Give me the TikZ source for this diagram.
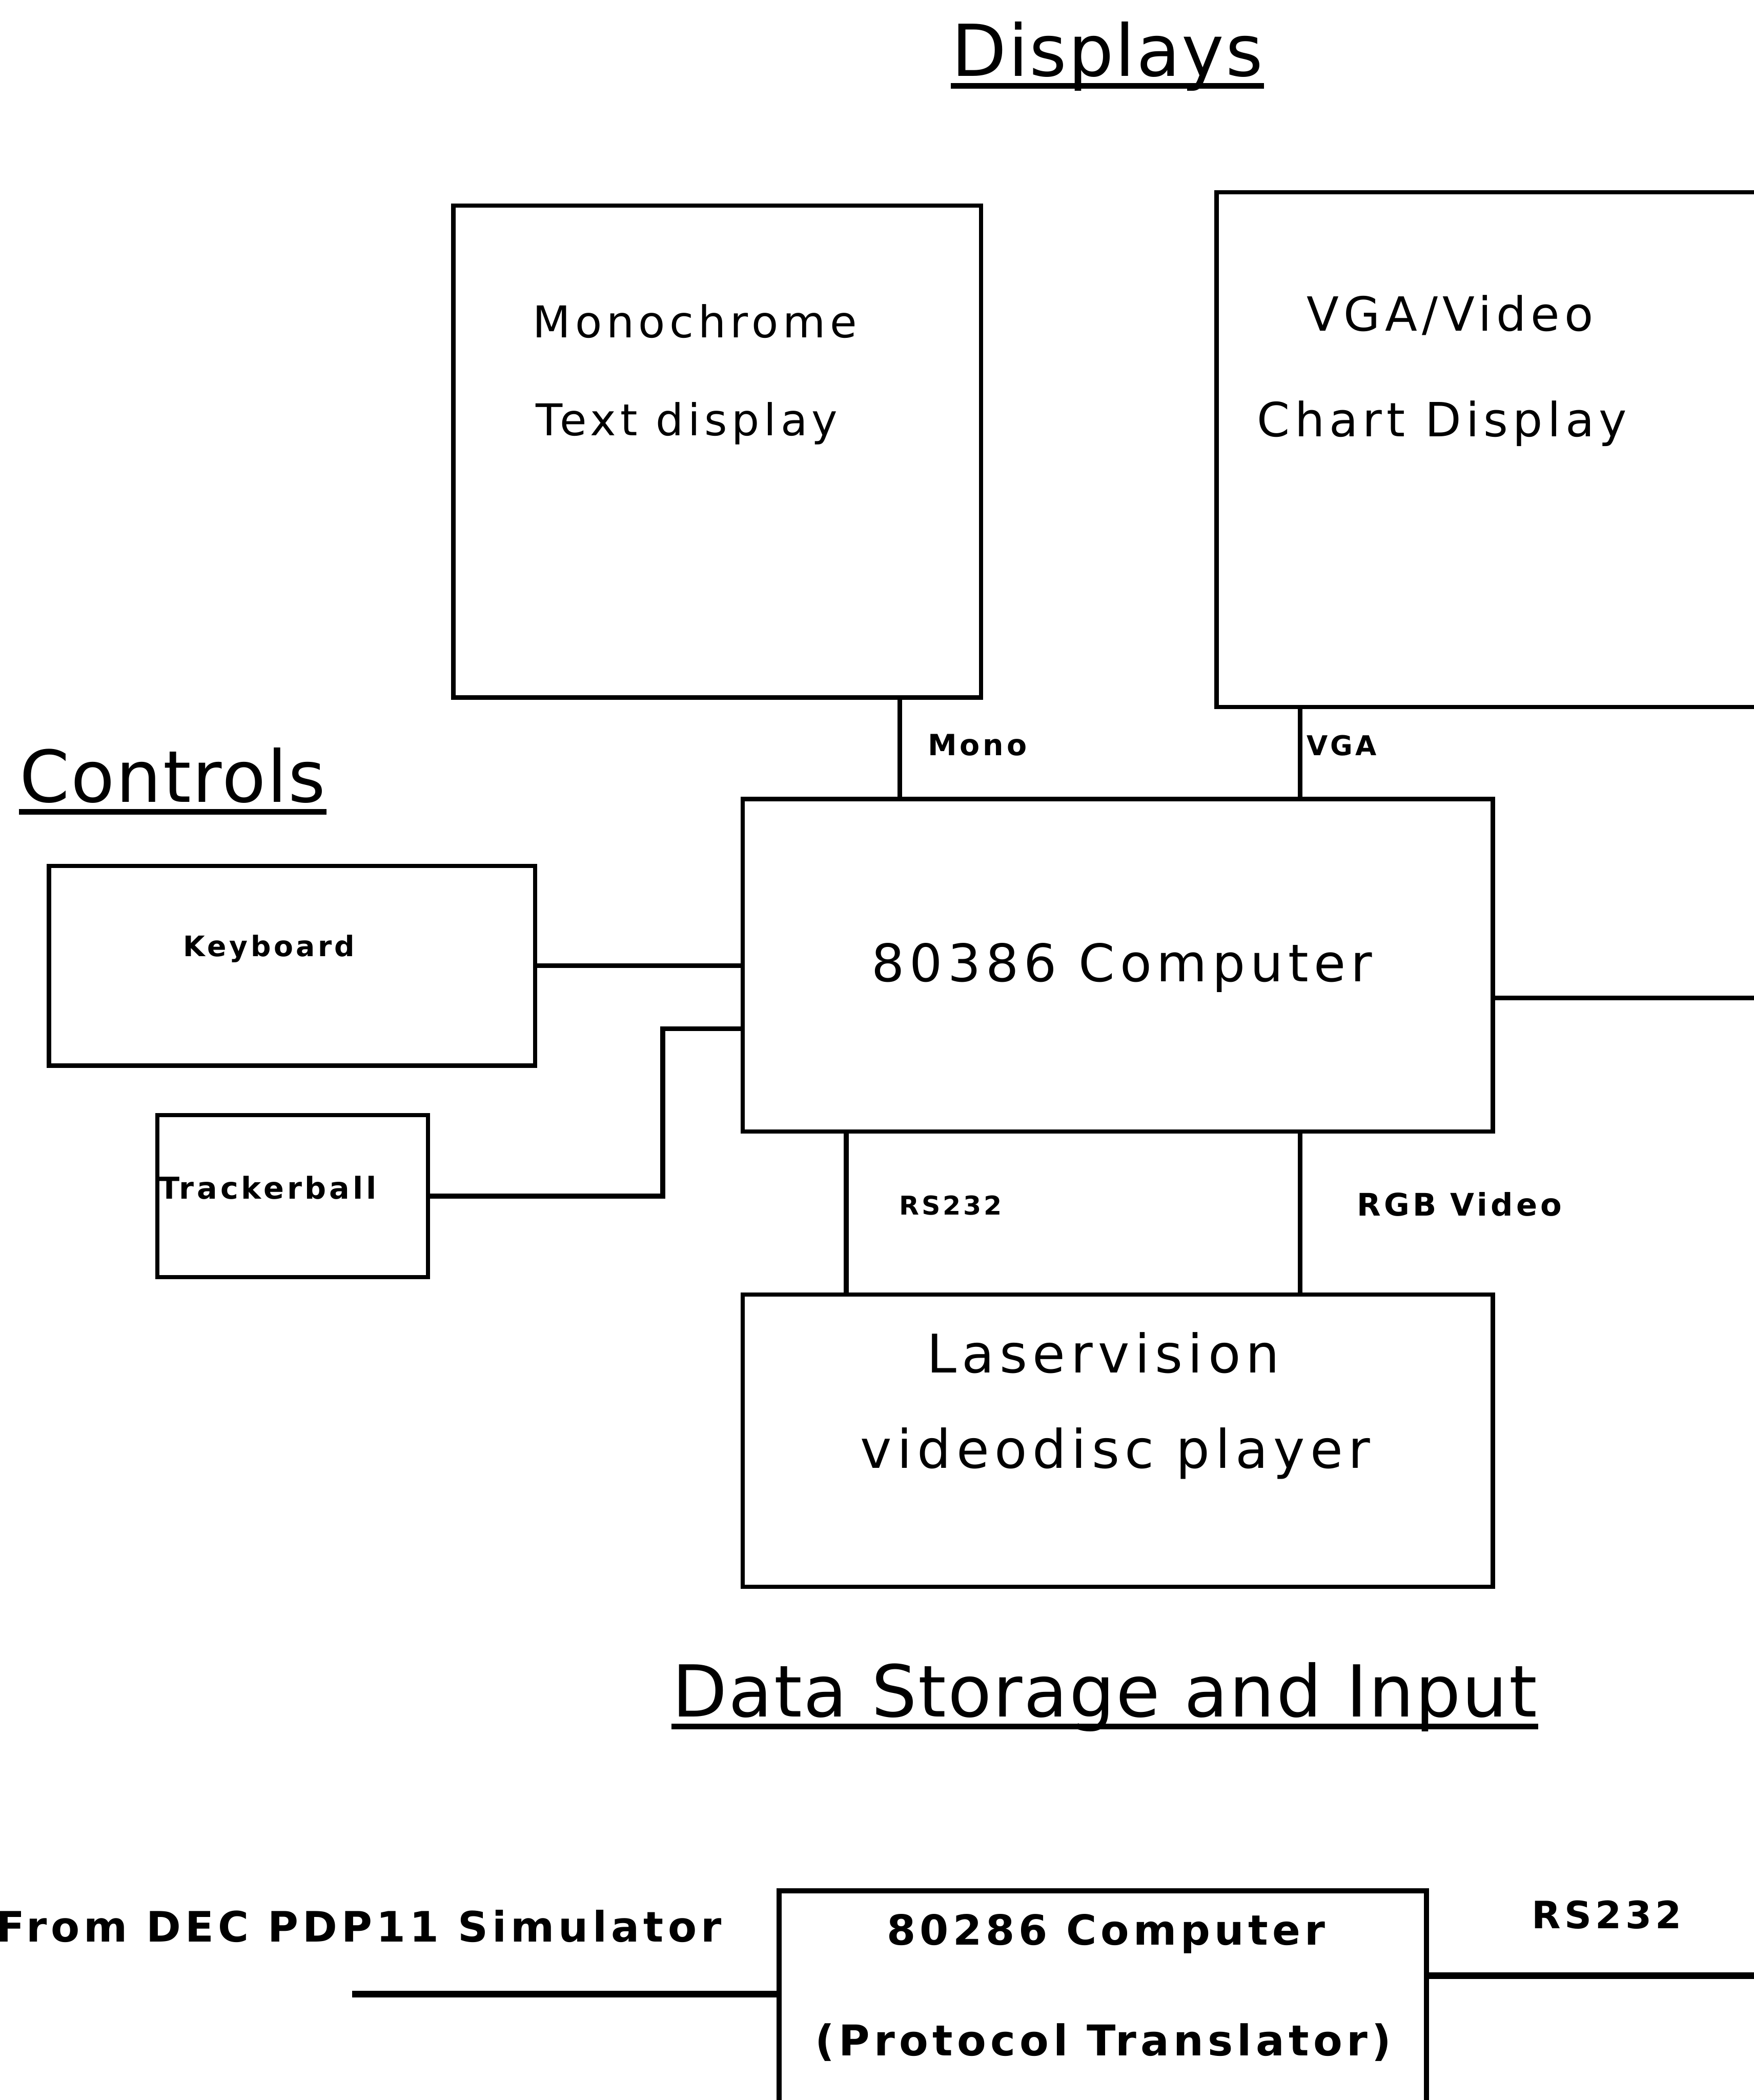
\documentclass[tikz,border=0pt]{standalone}
\usepackage{fontspec}
\setmainfont{DejaVu Sans}
\newfontfamily\spacedfont[LetterSpace=10]{DejaVu Sans}
\newfontfamily\titlefont[LetterSpace=2]{DejaVu Sans}
\usetikzlibrary{positioning}

\begin{document}
\begin{tikzpicture}[x=0.01cm, y=-0.01cm,
				box/.style={draw, line width=0.9pt, anchor=north west, inner sep=0pt},
				title/.style={font=\titlefont\fontsize{15.2}{18}\selectfont, inner sep=0pt, anchor=base},
				txt/.style={font=\spacedfont\fontsize{#1}{12}\selectfont, inner sep=0pt, anchor=base},
				bold/.style={font=\spacedfont\bfseries\fontsize{#1}{12}\selectfont, inner sep=0pt, anchor=base},
				wire/.style={line width=1pt},
				uline/.style={line width=1.2pt}]
				\useasboundingbox (0,0) rectangle (1310,1568);
				\clip (0,0) rectangle (1310,1568);
				% titles
				\node[title] (tdisp) at (827,57)   {Displays};
				\node[title] (tctrl) at (129,599)  {Controls};
				\node[title] (tdata) at (825,1282) {Data Storage and Input};
				\foreach \t in {tdisp,tctrl,tdata}
					\draw[uline] ([yshift=-2pt]\t.base west) -- ([yshift=-2pt]\t.base east);
				% boxes
				\node[box, minimum width=3.94cm, minimum height=3.67cm] (mono)  at (337,152)  {};
				\node[box, minimum width=5cm,    minimum height=3.84cm] (vga)   at (907,142)  {};
				\node[box, minimum width=3.63cm, minimum height=1.49cm] (kbd)   at (35,645)   {};
				\node[box, minimum width=2.02cm, minimum height=1.21cm] (track) at (116,831)  {};
				\node[box, minimum width=5.60cm, minimum height=2.48cm] (comp)  at (553,595)  {};
				\node[box, minimum width=5.60cm, minimum height=2.18cm] (laser) at (553,965)  {};
				\node[box, minimum width=4.83cm, minimum height=3cm, line width=1.1pt] (proto) at (580,1410) {};
				% box texts
				\node[txt=9.3]  (monoa)  at (519,252)  {Monochrome};
				\node[txt=9.3]  (monob)  at (513,325)  {Text display};
				\node[txt=10]   (vgaa)   at (1083,247) {VGA/Video};
				\node[txt=10]   (vgab)   at (1077,326) {Chart Display};
				\node[bold=6]   (kbda)   at (201,714)  {Keyboard};
				\node[bold=6.4] (tracka) at (200,895)  {Trackerball};
				\node[txt=11]   (compa)  at (838,733)  {80386 Computer};
				\node[txt=11.3] (lasera) at (824,1025) {Laservision};
				\node[txt=11.3] (laserb) at (833,1096) {videodisc player};
				\node[bold=8.8] (protoa) at (826,1452) {80286 Computer};
				\node[bold=9]   (protob) at (824,1535) {(Protocol Translator)};
				% wire labels
				\node[bold=6.2] (lmono) at (730,564)   {Mono};
				\node[bold=5.8] (lvga)  at (1002,564)  {VGA};
				\node[bold=5.5] (lrs)   at (710,907)   {RS232};
				\node[bold=6.6] (lrgb)  at (1090,908)  {RGB Video};
				\node[bold=8.9] (lfrom) at (268,1450)  {From DEC PDP11 Simulator};
				\node[bold=8]   (lrsb)  at (1200,1440) {RS232};
				% wires
				\coordinate (xm) at (672,0);
				\coordinate (xv) at (971,0);
				\coordinate (xr) at (632,0);
				\coordinate (tk) at (495,768);
				\coordinate (rout) at (1330,745);
				\coordinate (pin) at (263,1489);
				\coordinate (pout) at (1330,1475);
				\draw[wire] (mono.south -| xm) -- (comp.north -| xm);
				\draw[wire] (vga.south -| xv) -- (comp.north -| xv);
				\draw[wire] (comp.south -| xr) -- (laser.north -| xr);
				\draw[wire] (comp.south -| xv) -- (laser.north -| xv);
				\draw[wire] (kbd.east) -- (kbd.east -| comp.west);
				\draw[wire] (track.east) -| (tk) -- (tk -| comp.west);
				\draw[wire] (comp.east |- rout) -- (rout);
				\draw[line width=1.4pt] (pin) -- (pin -| proto.west);
				\draw[line width=1.4pt] (pout -| proto.east) -- (pout);
			\end{tikzpicture}
\end{document}
